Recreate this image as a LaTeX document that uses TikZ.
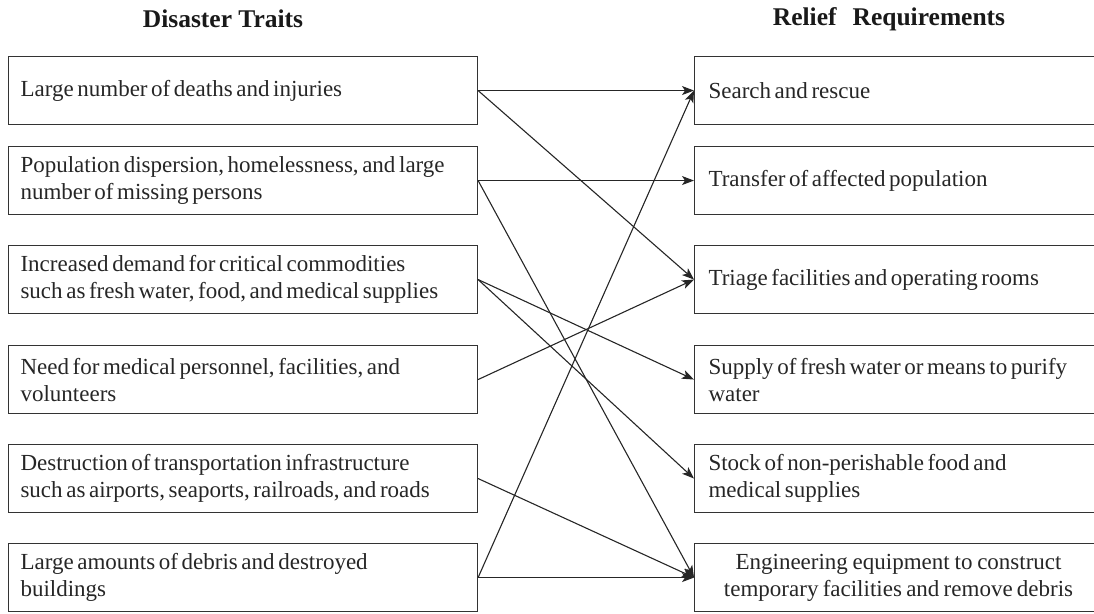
\documentclass[tikz,border=0pt]{standalone}
\usepackage{fontspec}
\setmainfont{Liberation Serif}
\usetikzlibrary{arrows.meta}
\newcommand{\boxfont}{\fontsize{23}{27}\selectfont\hyphenpenalty=10000\exhyphenpenalty=10000}
\begin{document}
\begin{tikzpicture}[x=1pt,y=-1pt,
  box/.style={draw=black!80, line width=1.1pt, rectangle, minimum height=68pt,
    inner xsep=12pt, inner ysep=0pt, anchor=north west,
    font=\boxfont, text=black!85,
    execute at begin node={\spaceskip=3.6pt plus 2pt minus 0.5pt\xspaceskip=4pt\relax}},
  lbox/.style={box, minimum width=469pt, text width=445pt, align=left},
  rbox/.style={box, minimum width=408pt, align=left, inner xsep=14pt, text width=380pt},
  cbox/.style={rbox, align=center},
  title/.style={font=\fontsize{25.5}{28}\selectfont\bfseries, text=black!90},
  conn/.style={draw=black!85, line width=1.1pt, -{Stealth[length=12pt, width=9pt, inset=3pt]}}]
\useasboundingbox (0,0) rectangle (1094,613);
\node[title] (tl) at (223,19) {Disaster Traits};
\node[title] (tr) at (889,19) {Relief\hspace{16pt}Requirements};
\node[lbox] (L1) at (8,56) {Large number of deaths and injuries};
\node[lbox] (L2) at (8,146) {Population dispersion, homelessness, and large\\number of missing persons};
\node[lbox] (L3) at (8,245) {Increased demand for critical commodities\\such as fresh water, food, and medical supplies};
\node[lbox] (L4) at (8,345) {Need for medical personnel, facilities, and\\volunteers};
\node[lbox] (L5) at (8,444) {Destruction of transportation infrastructure\\such as airports, seaports, railroads, and roads};
\node[lbox] (L6) at (8,543) {Large amounts of debris and destroyed\\buildings};
\node[rbox] (R1) at (694,56) {Search and rescue};
\node[rbox] (R2) at (694,146) {Transfer of affected population};
\node[rbox] (R3) at (694,245) {Triage facilities and operating rooms};
\node[rbox] (R4) at (694,345) {Supply of fresh water or means to purify\\water};
\node[rbox] (R5) at (694,444) {Stock of non-perishable food and\\medical supplies};
\node[cbox] (R6) at (694,543) {Engineering equipment to construct\\temporary facilities and remove debris};
\draw[conn] (L1.east) -- (R1.west);
\draw[conn] (L1.east) -- (R3.west);
\draw[conn] (L2.east) -- (R2.west);
\draw[conn] (L2.east) -- (R6.west);
\draw[conn] (L3.east) -- (R4.west);
\draw[conn] (L3.east) -- (R5.west);
\draw[conn] (L4.east) -- (R3.west);
\draw[conn] (L5.east) -- (R6.west);
\draw[conn] (L6.east) -- (R1.west);
\draw[conn] (L6.east) -- (R6.west);
\end{tikzpicture}
\end{document}
